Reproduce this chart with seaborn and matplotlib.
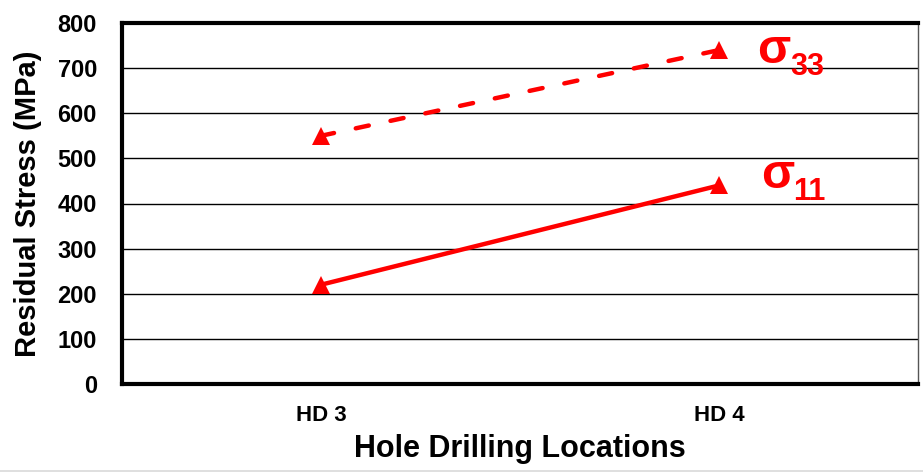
import matplotlib
matplotlib.use("Agg")
import matplotlib.pyplot as plt
from matplotlib.lines import Line2D
import seaborn as sns
import pandas as pd

locations = ["HD 3", "HD 4"]
sigma11 = [220, 440]
sigma33 = [550, 740]
yticks = [0, 100, 200, 300, 400, 500, 600, 700, 800]

sns.set_theme(style="white")
plt.rcParams["font.family"] = ["Liberation Sans", "DejaVu Sans"]

fig = plt.figure(figsize=(9.23, 4.76), dpi=100)
ax = fig.add_axes([122/923, 1 - 384/476, (918-122)/923, (384-23)/476])

df11 = pd.DataFrame({"loc": locations, "val": sigma11})
df33 = pd.DataFrame({"loc": locations, "val": sigma33})

red = "#ff0000"
sns.lineplot(data=df11, x="loc", y="val", ax=ax, color=red, lw=3.2,
             marker="^", markersize=13, markeredgewidth=0, sort=False)
sns.lineplot(data=df33, x="loc", y="val", ax=ax, color=red, lw=3.2,
             marker="^", markersize=13, markeredgewidth=0, sort=False,
             dashes=False)
dl = ax.lines[-1]
dl.set_dashes([3, 5])
dl.set_dash_capstyle("round")

ax.set_xlim(-0.5, 1.5)
ax.set_ylim(0, 800)
ax.set_yticks(yticks)
ax.set_yticklabels([str(v) for v in yticks], fontsize=17, fontweight="bold")
ax.set_xticks([0, 1])
ax.set_xticklabels(locations, fontsize=16, fontweight="bold")
ax.tick_params(axis="x", pad=15, length=0)
ax.tick_params(axis="y", pad=18, length=0)
for t in ax.get_yticklabels() + ax.get_xticklabels():
    t.set_color("black")

ax.yaxis.grid(True, color="black", lw=1.0)
ax.set_axisbelow(True)

for side in ["left", "bottom", "top"]:
    ax.spines[side].set_color("black")
    ax.spines[side].set_linewidth(3)
ax.spines["right"].set_color("#555555")
ax.spines["right"].set_linewidth(1)

ax.set_xlabel("Hole Drilling Locations", fontsize=22, fontweight="bold", labelpad=6, color="black")
ax.set_ylabel("Residual Stress (MPa)", fontsize=21, fontweight="bold", labelpad=11, color="black")

# series labels
ax.text(1.095, 712, "σ", fontsize=35, fontweight="bold", color=red,
        ha="left", va="baseline")
ax.text(1.178, 685, "33", fontsize=22, fontweight="bold", color=red,
        ha="left", va="baseline")
ax.text(1.107, 435, "σ", fontsize=35, fontweight="bold", color=red,
        ha="left", va="baseline")
ax.text(1.186, 408, "11", fontsize=22, fontweight="bold", color=red,
        ha="left", va="baseline")

fig.add_artist(Line2D([0, 1], [1 - 471/476] * 2, transform=fig.transFigure,
                      color="#d9d9d9", lw=1.2))

fig.savefig("out.png", dpi=100)
